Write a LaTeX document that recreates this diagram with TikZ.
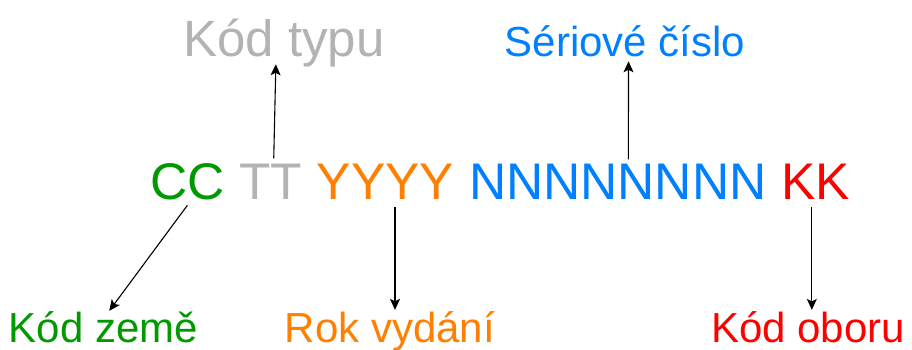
\documentclass[tikz,border=0pt]{standalone}
\usepackage{fontspec}
\setmainfont{Liberation Sans}
\usetikzlibrary{calc,arrows.meta}
\definecolor{cgreen}{HTML}{009900}
\definecolor{cgray}{HTML}{B3B3B3}
\definecolor{corange}{HTML}{FF8000}
\definecolor{cblue}{HTML}{0080FF}
\definecolor{cred}{HTML}{FF0000}
\begin{document}
\begin{tikzpicture}[x=1pt,y=1pt,
  big/.style={inner sep=0pt,anchor=base west,font=\fontsize{51.5}{60}\selectfont},
  lbl/.style={inner sep=0pt,anchor=base west,font=\fontsize{42}{50}\selectfont},
  arr/.style={line width=1.1pt,-{Stealth[length=11pt,width=10pt,inset=2.5pt]}}]
\useasboundingbox (0,0) rectangle (912,350);
% main code
\node[big,text=cgreen] (cc) at (150,150) {CC};
\node[big,text=cgray] (tt) at ([xshift=14.3pt]cc.base east) {TT};
\node[big,text=corange] (yy) at ([xshift=14.3pt]tt.base east) {YYYY};
\node[big,text=cblue] (nn) at ([xshift=14.3pt]yy.base east) {NNNNNNNN};
\node[big,text=cred] (kk) at ([xshift=14.3pt]nn.base east) {KK};
% labels
\node[inner sep=0pt,anchor=base west,font=\fontsize{51}{60}\selectfont,text=cgray] (typ) at (183,293) {Kód typu};
\node[lbl,text=cblue] (ser) at (504.7,293.3) {Sériové číslo};
\node[lbl,text=cgreen] (zem) at (8.5,7) {Kód země};
\node[lbl,text=corange] (rok) at (284.6,7) {Rok vydání};
\node[lbl,text=cred] (obo) at (711,7) {Kód oboru};
% connectors
\coordinate (t0) at ($(tt.north)+(3,6)$);
\coordinate (t1) at ($(typ.south)+(-8,3.5)$);
\draw[arr] (t0) -- (t1);
\coordinate (s0) at ($(nn.north)+(10.6,5)$);
\coordinate (s1) at ($(ser.south)+(3.4,-4)$);
\draw[arr] (s0) -- (s1);
\coordinate (c0) at ($(cc.south)+(0,-4.6)$);
\coordinate (c1) at ($(zem.north)+(6,1)$);
\draw[arr] (c0) -- (c1);
\coordinate (y0) at ($(yy.south)+(9.4,-7)$);
\coordinate (y1) at (y0 |- rok.north);
\draw[arr,shorten >=2pt] (y0) -- (y1);
\coordinate (k0) at ($(kk.south)+(-3.75,-7)$);
\coordinate (k1) at (k0 |- obo.north);
\draw[arr,shorten >=2pt] (k0) -- (k1);
\end{tikzpicture}
\end{document}
